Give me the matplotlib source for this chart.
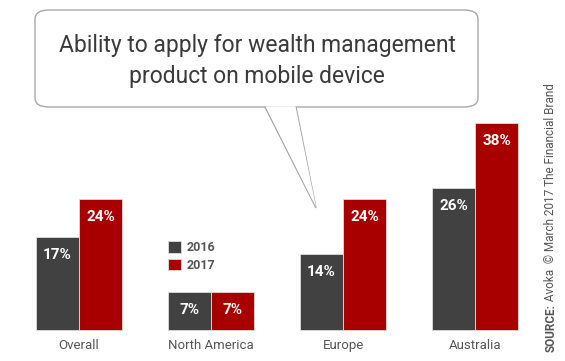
import numpy as np
import matplotlib
matplotlib.use("Agg")
from matplotlib import pyplot as plt
from matplotlib.patches import FancyBboxPatch, Polygon

# data
regions = ["Overall", "North America", "Europe", "Australia"]
years = ["2016", "2017"]
vals_2016 = [17, 7, 14, 26]
vals_2017 = [24, 7, 24, 38]

title = "Ability to apply for wealth management\nproduct on mobile device"
source_bold = "SOURCE:"
source_rest = " Avoka  \u00a9 March 2017 The Financial Brand"

dark = "#414141"
red = "#a80000"
textgray = "#555555"

W, H = 565, 361
fig = plt.figure(figsize=(W / 100, H / 100), dpi=100)
fig.patch.set_facecolor("white")

def px(x, y):
	# pixel coords (origin top-left) -> figure fraction
	return (x / W, 1 - y / H)

ax = fig.add_axes([0, 0, 1, 1])
ax.axis("off")
# 132 px between groups, baseline at y=330, 5.45 px per percent
ax.set_xlim(-79 / 132.0, (W - 79) / 132.0)
ax.set_ylim(-(H - 330) / 5.45, 330 / 5.45)

x = np.arange(len(regions))
bw = 0.327
b1 = ax.bar(x - bw / 2, vals_2016, bw, color=dark, edgecolor="#dddddd", linewidth=0.6, label=years[0])
b2 = ax.bar(x + bw / 2, vals_2017, bw, color=red, edgecolor="#dddddd", linewidth=0.6, label=years[1])

for bars in (b1, b2):
	for r in bars:
		ax.text(r.get_x() + r.get_width() / 2, r.get_height() - 3.3, str(int(r.get_height())) + "%",
				ha="center", va="center", color="white", fontsize=11, fontweight="bold", family="Roboto")

for i, name in enumerate(regions):
	ax.text(x[i], -2.9, name, ha="center", va="center", color=textgray, fontsize=9.5, family="Roboto")

# legend
leg = ax.legend(loc="upper left", bbox_to_anchor=px(157, 230), bbox_transform=fig.transFigure,
				frameon=False, handlelength=1.0, handleheight=1.0, handletextpad=0.45,
				labelspacing=0.35, prop={"family": "Roboto", "size": 9, "weight": "bold"})
for t in leg.get_texts():
	t.set_color(textgray)

# speech bubble
box = FancyBboxPatch(px(35, 107), (478 - 35) / W, (107 - 10) / H,
					 boxstyle="round,pad=0,rounding_size=0.025", transform=fig.transFigure,
					 facecolor="white", edgecolor="#a8a8a8", linewidth=1.0)
fig.patches.append(box)
tail = Polygon([px(265, 107), px(316, 208), px(296, 107)], closed=False, transform=fig.transFigure,
			   facecolor="white", edgecolor="#a8a8a8", linewidth=1.0)
fig.patches.append(tail)
# cover the box edge under the tail
cover = Polygon([px(265.6, 106.3), px(316, 207), px(295.4, 106.3)], closed=True, transform=fig.transFigure,
				facecolor="white", edgecolor="none")
fig.patches.append(cover)

fig.text(*px(257, 61), title, ha="center", va="center", fontsize=16.5, color="#3a3a3a",
		 family="Roboto", linespacing=1.45)

# source (vertical)
sb = fig.text(*px(551, 352), source_bold, rotation=90, ha="center", va="bottom",
			  fontsize=8.5, fontweight="bold", color=textgray, family="Roboto")
fig.canvas.draw()
ext = sb.get_window_extent()
fig.text(551 / W, ext.y1 / H, source_rest, rotation=90, ha="center", va="bottom",
		 fontsize=8.5, color=textgray, family="Roboto")

fig.savefig("out.png", dpi=100)
